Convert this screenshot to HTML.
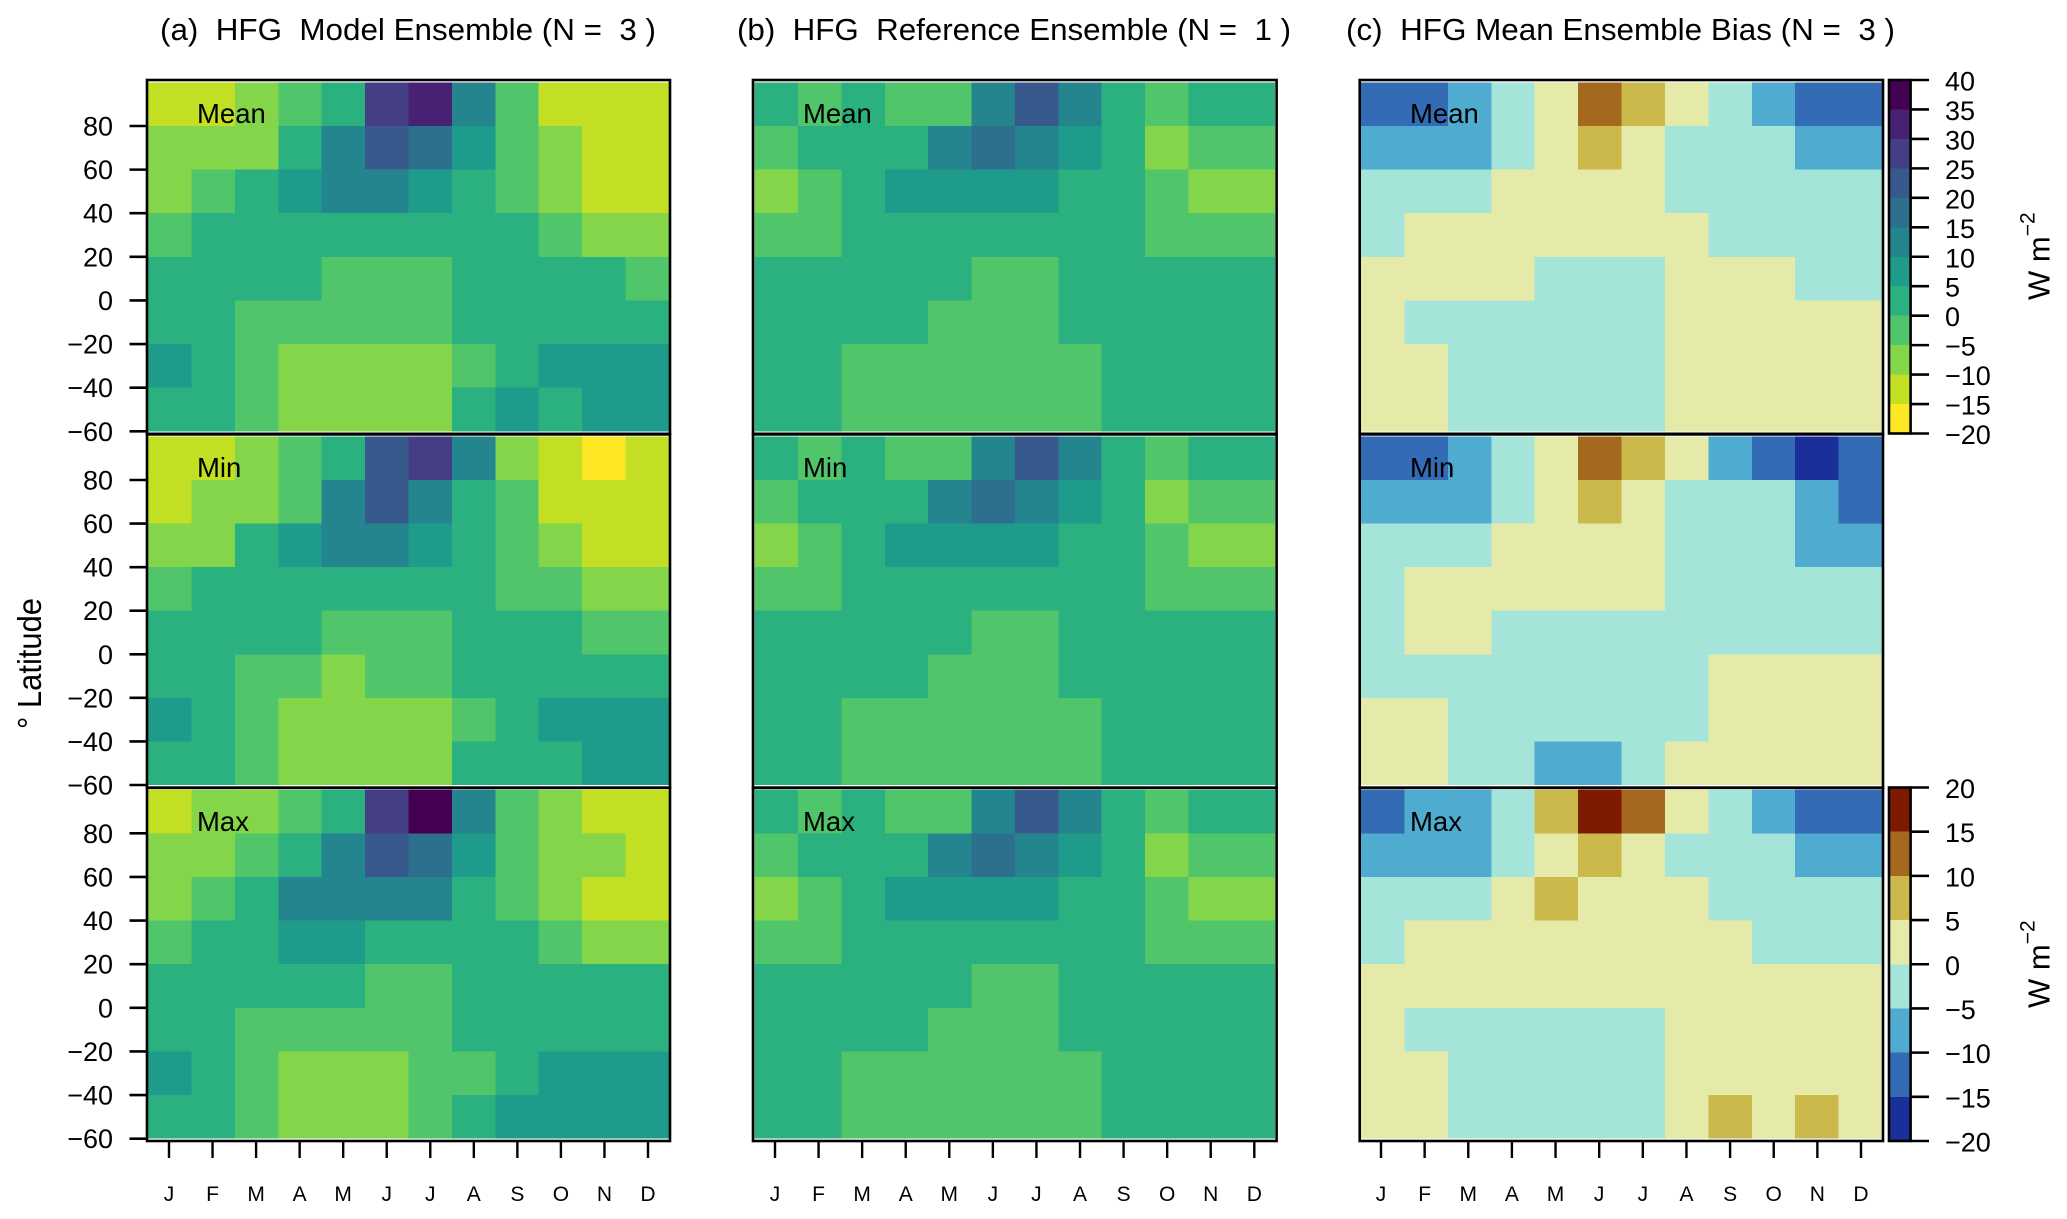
<!DOCTYPE html>
<html lang="en">
<head>
<meta charset="utf-8">
<title>HFG Ensemble Heatmaps</title>
<style>
html,body{margin:0;padding:0;background:#fff;}
svg{display:block;font-family:"Liberation Sans",Arial,sans-serif;}
text{white-space:pre;fill:#000;}
</style>
</head>
<body>
<svg id="chart" xmlns="http://www.w3.org/2000/svg" width="2067" height="1219" viewBox="0 0 2067 1219">
  <rect x="0" y="0" width="2067" height="1219" fill="#fff"/>
  <g id="marks"></g>
  <g id="axes"></g>

  <text x="160" y="40" font-size="31" textLength="496" lengthAdjust="spacingAndGlyphs" xml:space="preserve">(a)  HFG  Model Ensemble (N =  3 )</text>
  <text x="737" y="40" font-size="31" textLength="554" lengthAdjust="spacingAndGlyphs" xml:space="preserve">(b)  HFG  Reference Ensemble (N =  1 )</text>
  <text x="1346" y="40" font-size="31" textLength="549" lengthAdjust="spacingAndGlyphs" xml:space="preserve">(c)  HFG Mean Ensemble Bias (N =  3 )</text>

  <text x="197" y="123" font-size="27.5">Mean</text>
  <text x="197" y="477" font-size="27.5">Min</text>
  <text x="197" y="831" font-size="27.5">Max</text>
  <text x="803" y="123" font-size="27.5">Mean</text>
  <text x="803" y="477" font-size="27.5">Min</text>
  <text x="803" y="831" font-size="27.5">Max</text>
  <text x="1410" y="123" font-size="27.5">Mean</text>
  <text x="1410" y="477" font-size="27.5">Min</text>
  <text x="1410" y="831" font-size="27.5">Max</text>

  <text transform="translate(41,729) rotate(-90)" font-size="33.5" textLength="131" lengthAdjust="spacingAndGlyphs" xml:space="preserve">° Latitude</text>
  <text transform="translate(2049.5,300) rotate(-90)" font-size="31">W m<tspan dy="-15" font-size="21">−2</tspan></text>
  <text transform="translate(2049.5,1008) rotate(-90)" font-size="31">W m<tspan dy="-15" font-size="21">−2</tspan></text>
</svg>

<script>
const months = ['J','F','M','A','M','J','J','A','S','O','N','D'];
const latTicks = [80,60,40,20,0,-20,-40,-60];
const latRowTops = [100,80,60,40,20,0,-20,-40];
const valueBreaks = [-20,-15,-10,-5,0,5,10,15,20,25,30,35,40];
const biasBreaks = [-20,-15,-10,-5,0,5,10,15,20];
const valueTickLabels = [40,35,30,25,20,15,10,5,0,-5,-10,-15,-20];
const biasTickLabels = [20,15,10,5,0,-5,-10,-15,-20];

const modelMean = [
 [-12,-12,-7,-2,3,28,33,13,-2,-12,-12,-12],
 [-7,-7,-7,3,13,23,18,8,-2,-7,-12,-12],
 [-7,-2,3,8,13,13,8,3,-2,-7,-12,-12],
 [-2,3,3,3,3,3,3,3,3,-2,-7,-7],
 [3,3,3,3,-2,-2,-2,3,3,3,3,-2],
 [3,3,-2,-2,-2,-2,-2,3,3,3,3,3],
 [8,3,-2,-7,-7,-7,-7,-2,3,8,8,8],
 [3,3,-2,-7,-7,-7,-7,3,8,3,8,8]
];
const modelMin = [
 [-12,-12,-7,-2,3,23,28,13,-7,-12,-17,-12],
 [-12,-7,-7,-2,13,23,13,3,-2,-12,-12,-12],
 [-7,-7,3,8,13,13,8,3,-2,-7,-12,-12],
 [-2,3,3,3,3,3,3,3,-2,-2,-7,-7],
 [3,3,3,3,-2,-2,-2,3,3,3,-2,-2],
 [3,3,-2,-2,-7,-2,-2,3,3,3,3,3],
 [8,3,-2,-7,-7,-7,-7,-2,3,8,8,8],
 [3,3,-2,-7,-7,-7,-7,3,3,3,8,8]
];
const modelMax = [
 [-12,-7,-7,-2,3,28,38,13,-2,-7,-12,-12],
 [-7,-7,-2,3,13,23,18,8,-2,-7,-7,-12],
 [-7,-2,3,13,13,13,13,3,-2,-7,-12,-12],
 [-2,3,3,8,8,3,3,3,3,-2,-7,-7],
 [3,3,3,3,3,-2,-2,3,3,3,3,3],
 [3,3,-2,-2,-2,-2,-2,3,3,3,3,3],
 [8,3,-2,-7,-7,-7,-2,-2,3,8,8,8],
 [3,3,-2,-7,-7,-7,-2,3,8,8,8,8]
];
const refMean = [
 [3,-2,3,-2,-2,13,23,13,3,-2,3,3],
 [-2,3,3,3,13,18,13,8,3,-7,-2,-2],
 [-7,-2,3,8,8,8,8,3,3,-2,-7,-7],
 [-2,-2,3,3,3,3,3,3,3,-2,-2,-2],
 [3,3,3,3,3,-2,-2,3,3,3,3,3],
 [3,3,3,3,-2,-2,-2,3,3,3,3,3],
 [3,3,-2,-2,-2,-2,-2,-2,3,3,3,3],
 [3,3,-2,-2,-2,-2,-2,-2,3,3,3,3]
];
const refMin = [
 [3,-2,3,-2,-2,13,23,13,3,-2,3,3],
 [-2,3,3,3,13,18,13,8,3,-7,-2,-2],
 [-7,-2,3,8,8,8,8,3,3,-2,-7,-7],
 [-2,-2,3,3,3,3,3,3,3,-2,-2,-2],
 [3,3,3,3,3,-2,-2,3,3,3,3,3],
 [3,3,3,3,-2,-2,-2,3,3,3,3,3],
 [3,3,-2,-2,-2,-2,-2,-2,3,3,3,3],
 [3,3,-2,-2,-2,-2,-2,-2,3,3,3,3]
];
const refMax = [
 [3,-2,3,-2,-2,13,23,13,3,-2,3,3],
 [-2,3,3,3,13,18,13,8,3,-7,-2,-2],
 [-7,-2,3,8,8,8,8,3,3,-2,-7,-7],
 [-2,-2,3,3,3,3,3,3,3,-2,-2,-2],
 [3,3,3,3,3,-2,-2,3,3,3,3,3],
 [3,3,3,3,-2,-2,-2,3,3,3,3,3],
 [3,3,-2,-2,-2,-2,-2,-2,3,3,3,3],
 [3,3,-2,-2,-2,-2,-2,-2,3,3,3,3]
];
const biasMean = [
 [-12,-12,-7,-2,3,13,8,3,-2,-7,-12,-12],
 [-7,-7,-7,-2,3,8,3,-2,-2,-2,-7,-7],
 [-2,-2,-2,3,3,3,3,-2,-2,-2,-2,-2],
 [-2,3,3,3,3,3,3,3,-2,-2,-2,-2],
 [3,3,3,3,-2,-2,-2,3,3,3,-2,-2],
 [3,-2,-2,-2,-2,-2,-2,3,3,3,3,3],
 [3,3,-2,-2,-2,-2,-2,3,3,3,3,3],
 [3,3,-2,-2,-2,-2,-2,3,3,3,3,3]
];
const biasMin = [
 [-12,-12,-7,-2,3,13,8,3,-7,-12,-17,-12],
 [-7,-7,-7,-2,3,8,3,-2,-2,-2,-7,-12],
 [-2,-2,-2,3,3,3,3,-2,-2,-2,-7,-7],
 [-2,3,3,3,3,3,3,-2,-2,-2,-2,-2],
 [-2,3,3,-2,-2,-2,-2,-2,-2,-2,-2,-2],
 [-2,-2,-2,-2,-2,-2,-2,-2,3,3,3,3],
 [3,3,-2,-2,-2,-2,-2,-2,3,3,3,3],
 [3,3,-2,-2,-7,-7,-2,3,3,3,3,3]
];
const biasMax = [
 [-12,-7,-7,-2,8,18,13,3,-2,-7,-12,-12],
 [-7,-7,-7,-2,3,8,3,-2,-2,-2,-7,-7],
 [-2,-2,-2,3,8,3,3,3,-2,-2,-2,-2],
 [-2,3,3,3,3,3,3,3,3,-2,-2,-2],
 [3,3,3,3,3,3,3,3,3,3,3,3],
 [3,-2,-2,-2,-2,-2,-2,3,3,3,3,3],
 [3,3,-2,-2,-2,-2,-2,3,3,3,3,3],
 [3,3,-2,-2,-2,-2,-2,3,8,3,8,3]
];

const viridisColors = ['#FDE725','#C2DF23','#85D54A','#51C56A','#2BB07F','#1E9B8A','#25858E','#2D708E','#38598C','#433E85','#482173','#440154'];
const biasColors = ['#1B2F9B','#336CB4','#50ABD0','#A5E5D9','#E6EAA9','#CBB94C','#A5681F','#7E1A00'];

const NS = 'http://www.w3.org/2000/svg';
const marks = document.getElementById('marks');
const axes = document.getElementById('axes');

const columns = [
  {x0:148.2, x1:668.8, fl:147.0, fr:670.0, tick0:169.0, tick1:648.0, breaks:valueBreaks, colors:viridisColors, sets:[modelMean,modelMin,modelMax], id:'model'},
  {x0:754.7, x1:1275.2, fl:753.0, fr:1276.6, tick0:775.0, tick1:1254.3, breaks:valueBreaks, colors:viridisColors, sets:[refMean,refMin,refMax], id:'reference'},
  {x0:1361.0, x1:1882.0, fl:1359.7, fr:1883.0, tick0:1381.0, tick1:1861.0, breaks:biasBreaks, colors:biasColors, sets:[biasMean,biasMin,biasMax], id:'bias'}
];
const rowsGeom = [
  {lat80:126.0, latM60:431.3, top:80.0, bottom:433.8},
  {lat80:480.0, latM60:785.0, top:434.4, bottom:787.6},
  {lat80:833.3, latM60:1138.7, top:787.8, bottom:1141.0}
];

function xScale(col, monthIndex){
  return col.x0 + monthIndex * (col.x1 - col.x0) / months.length;
}
function xTick(col, monthIndex){
  return col.tick0 + monthIndex * (col.tick1 - col.tick0) / (months.length - 1);
}
function yScale(geom, lat){
  return geom.latM60 - (lat + 60) * (geom.latM60 - geom.lat80) / 140;
}
function binIndex(breaks, value){
  let idx = 0;
  for(let i = 0; i < breaks.length - 1; i++){ if(value >= breaks[i]) idx = i; }
  return idx;
}
function make(tag, parent){
  const el = document.createElementNS(NS, tag);
  parent.appendChild(el);
  return el;
}
function setAll(el, props){
  for(const k in props) el.setAttribute(k, props[k]);
}

columns.forEach(function(col){
  col.sets.forEach(function(grid, p){
    const geom = rowsGeom[p];
    const latStep = latRowTops[0] - latRowTops[1];
    grid.forEach(function(rowVals, r){
      rowVals.forEach(function(val, m){
        const cell = make('rect', marks);
        
        
        const yt = yScale(geom, latRowTops[r]);
        const yb = yScale(geom, latRowTops[r] - latStep);
        const xl = xScale(col, m);
        const xr = xScale(col, m + 1);
        setAll(cell, {x:xl, y:yt, width:xr - xl, height:yb - yt, fill:col.colors[binIndex(col.breaks, val)], 'shape-rendering':'crispEdges'});
      });
    });
    const frame = make('rect', axes);
    
    
    setAll(frame, {x:col.fl, y:geom.top, width:col.fr - col.fl, height:geom.bottom - geom.top, fill:'none', stroke:'#000', 'stroke-width':2.6});
  });

  months.forEach(function(label, m){
    const cx = xTick(col, m);
    const tick = make('line', axes);
    
    
    setAll(tick, {x1:cx, x2:cx, y1:1141, y2:1158, stroke:'#000', 'stroke-width':2.4});
    const t = make('text', axes);
    
    
    setAll(t, {x:cx, y:1201, 'font-size':21, 'text-anchor':'middle'});
    t.textContent = label;
  });
});

rowsGeom.forEach(function(geom){
  latTicks.forEach(function(lat){
    const y = yScale(geom, lat);
    const tick = make('line', axes);
    
    
    setAll(tick, {x1:129.5, x2:147, y1:y, y2:y, stroke:'#000', 'stroke-width':2.6});
    const t = make('text', axes);
    
    
    setAll(t, {x:113, y:y + 9.5, 'font-size':27, 'text-anchor':'end'});
    t.textContent = String(lat).replace('-', '\u2212');
  });
});

function drawColorbar(breaks, colors, labels, top, bottom){
  const x0 = 1889, x1 = 1910.6;
  const lo = breaks[0], hi = breaks[breaks.length - 1];
  const cbY = function(v){ return bottom - (v - lo) * (bottom - top) / (hi - lo); };
  colors.forEach(function(c, i){
    const seg = make('rect', marks);
    
    
    setAll(seg, {x:x0, y:cbY(breaks[i + 1]), width:x1 - x0, height:cbY(breaks[i]) - cbY(breaks[i + 1]), fill:c, 'shape-rendering':'crispEdges'});
  });
  const frame = make('rect', axes);
  
  
  setAll(frame, {x:x0, y:top, width:x1 - x0, height:bottom - top, fill:'none', stroke:'#000', 'stroke-width':2.6});
  labels.forEach(function(v){
    const y = cbY(v);
    const tick = make('line', axes);
    
    
    setAll(tick, {x1:x1, x2:1929, y1:y, y2:y, stroke:'#000', 'stroke-width':2.6});
    const t = make('text', axes);
    
    
    setAll(t, {x:1945, y:y + 10.5, 'font-size':27});
    t.textContent = String(v).replace('-', '\u2212');
  });
}
drawColorbar(valueBreaks, viridisColors, valueTickLabels, 80, 433.5);
drawColorbar(biasBreaks, biasColors, biasTickLabels, 787.5, 1141);
</script>
</body>
</html>
